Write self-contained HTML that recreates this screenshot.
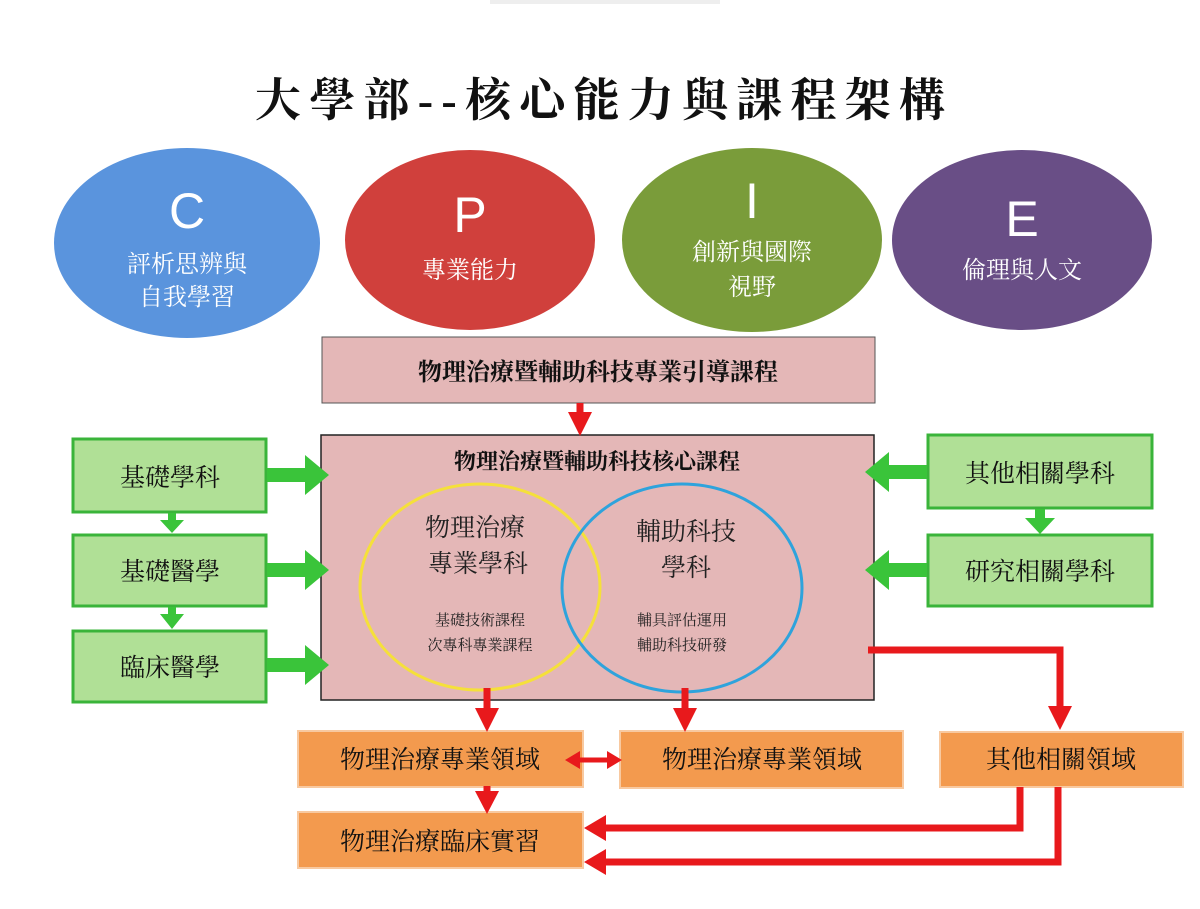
<!DOCTYPE html>
<html><head><meta charset="utf-8"><style>
html,body{margin:0;padding:0;background:#fff;}
svg{display:block;}
text{font-family:"Liberation Serif","Noto Serif CJK SC","Noto Sans CJK TC",serif;}
.s{font-family:"Liberation Sans","Noto Sans CJK TC",sans-serif;}
</style></head><body>
<svg width="1200" height="909" viewBox="0 0 1200 909" xmlns="http://www.w3.org/2000/svg">
<rect x="490" y="0" width="230" height="4" fill="#eee"/>
<text x="255" y="116" font-size="46" font-weight="bold" textLength="690" lengthAdjust="spacing" fill="#111">大學部--核心能力與課程架構</text>

<ellipse cx="187" cy="243" rx="133" ry="95" fill="#5a94dd"/>
<ellipse cx="470" cy="240" rx="125" ry="90" fill="#d0403c"/>
<ellipse cx="752" cy="240" rx="130" ry="92" fill="#7a9c3a"/>
<ellipse cx="1022" cy="240" rx="130" ry="90" fill="#694e86"/>
<g fill="#fff" text-anchor="middle" class="s">
<text x="187" y="228" font-size="50" class="s">C</text>
<text x="187" y="272" font-size="24">評析思辨與</text>
<text x="187" y="305" font-size="24">自我學習</text>
<text x="470" y="232" font-size="50" class="s">P</text>
<text x="470" y="278" font-size="24">專業能力</text>
<text x="752" y="218" font-size="50" class="s">I</text>
<text x="752" y="260" font-size="24">創新與國際</text>
<text x="752" y="295" font-size="24">視野</text>
<text x="1022" y="236" font-size="50" class="s">E</text>
<text x="1022" y="278" font-size="24">倫理與人文</text>
</g>

<rect x="322" y="337" width="553" height="66" fill="#e4b7b7" stroke="#555" stroke-width="1"/>
<text x="598" y="380" font-size="24" font-weight="bold" text-anchor="middle" fill="#111">物理治療暨輔助科技專業引導課程</text>

<rect x="321" y="435" width="553" height="265" fill="#e4b7b7" stroke="#222" stroke-width="1.5"/>
<text x="597" y="469" font-size="22" font-weight="bold" text-anchor="middle" fill="#111">物理治療暨輔助科技核心課程</text>
<ellipse cx="480" cy="587" rx="120" ry="103" fill="none" stroke="#f5e03a" stroke-width="3"/>
<ellipse cx="682" cy="588" rx="120" ry="104" fill="none" stroke="#2ea3dc" stroke-width="3"/>
<g text-anchor="middle" fill="#222">
<text x="475" y="536" font-size="25">物理治療</text>
<text x="478" y="572" font-size="25">專業學科</text>
<text x="480" y="625" font-size="15">基礎技術課程</text>
<text x="480" y="650" font-size="15">次專科專業課程</text>
<text x="686" y="540" font-size="25">輔助科技</text>
<text x="686" y="576" font-size="25">學科</text>
<text x="682" y="625" font-size="15">輔具評估運用</text>
<text x="682" y="650" font-size="15">輔助科技研發</text>
</g>

<g fill="#b0e096" stroke="#3ab43a" stroke-width="3">
<rect x="73" y="439" width="193" height="73"/>
<rect x="73" y="535" width="193" height="71"/>
<rect x="73" y="631" width="193" height="71"/>
<rect x="928" y="435" width="224" height="73"/>
<rect x="928" y="535" width="224" height="71"/>
</g>
<g font-size="25" text-anchor="middle" fill="#111">
<text x="170" y="486">基礎學科</text>
<text x="170" y="580">基礎醫學</text>
<text x="170" y="676">臨床醫學</text>
<text x="1040" y="482">其他相關學科</text>
<text x="1040" y="580">研究相關學科</text>
</g>
<g fill="#3ac43a">
<path d="M267,468 H305 V455 L329,475 L305,495 V482 H267 z"/>
<path d="M267,563 H305 V550 L329,570 L305,590 V577 H267 z"/>
<path d="M267,658 H305 V645 L329,665 L305,685 V672 H267 z"/>
<path d="M927,465 H889 V452 L865,472 L889,492 V479 H927 z"/>
<path d="M927,563 H889 V550 L865,570 L889,590 V577 H927 z"/>
<path d="M168,513 H176 V520 H184 L172,533 L160,520 H168 z"/>
<path d="M168,607 H176 V614 H184 L172,629 L160,614 H168 z"/>
<path d="M1035,509 H1045 V518 H1055 L1040,534 L1025,518 H1035 z"/>
</g>

<g fill="#f39a4e" stroke="#f8c9a0" stroke-width="2">
<rect x="298" y="731" width="285" height="56"/>
<rect x="620" y="731" width="283" height="57"/>
<rect x="940" y="732" width="243" height="55"/>
<rect x="298" y="812" width="285" height="56"/>
</g>
<g font-size="25" text-anchor="middle" fill="#111">
<text x="440" y="768">物理治療專業領域</text>
<text x="762" y="768">物理治療專業領域</text>
<text x="1061" y="768">其他相關領域</text>
<text x="440" y="850">物理治療臨床實習</text>
</g>

<g stroke="#e8191c" stroke-width="7" fill="none">
<line x1="580" y1="403" x2="580" y2="414"/>
<line x1="487" y1="688" x2="487" y2="710"/>
<line x1="685" y1="688" x2="685" y2="710"/>
<polyline points="868,650 1060,650 1060,708"/>
<line x1="487" y1="786" x2="487" y2="794"/>
<polyline points="1020,787 1020,828 604,828"/>
<polyline points="1058,787 1058,862 604,862"/>
</g>
<g fill="#e8191c">
<path d="M568,412 H592 L580,436 z"/>
<path d="M475,708 H499 L487,732 z"/>
<path d="M673,708 H697 L685,732 z"/>
<path d="M1048,706 H1072 L1060,730 z"/>
<path d="M475,791 H499 L487,814 z"/>
<path d="M606,815 V841 L584,828 z"/>
<path d="M606,849 V875 L584,862 z"/>
<path d="M565,760 L580,751 L580,769 z M622,760 L607,751 L607,769 z"/>
</g>
<line x1="578" y1="760" x2="609" y2="760" stroke="#e8191c" stroke-width="5"/>
</svg>
</body></html>
